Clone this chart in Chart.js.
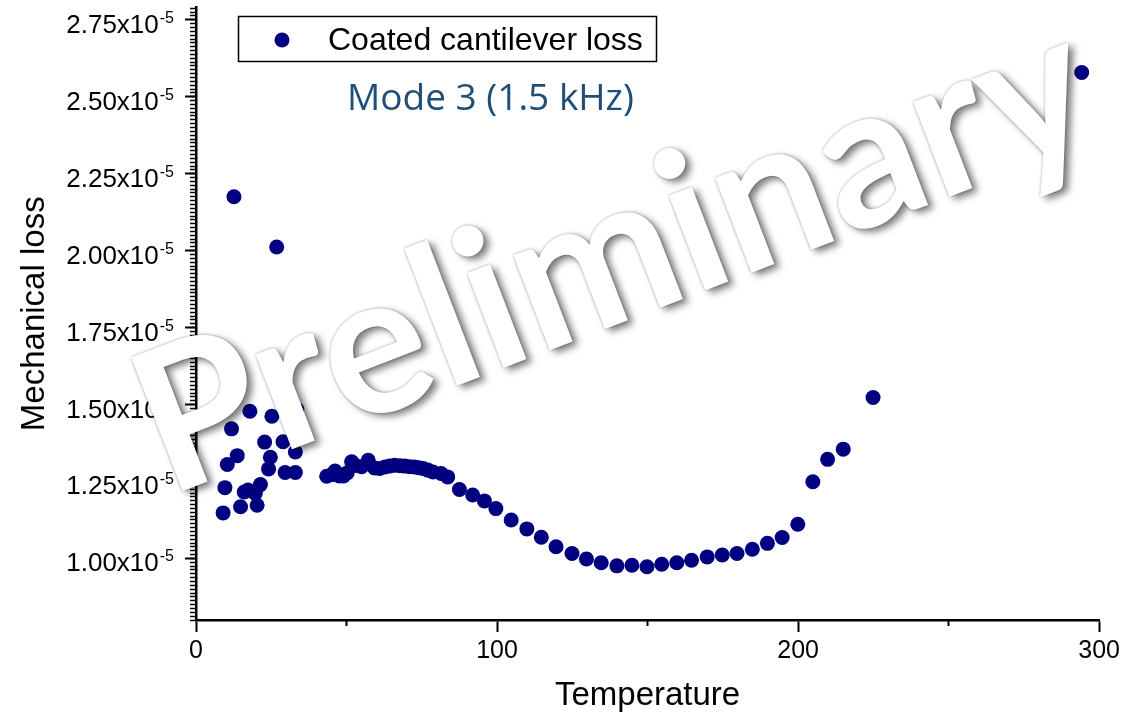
<!DOCTYPE html>
<html>
<head>
<meta charset="utf-8">
<title>Coated cantilever loss - Mode 3</title>
<script src="https://cdn.jsdelivr.net/npm/chart.js@4.4.1/dist/chart.umd.min.js"></script>
<style>
  html, body { margin: 0; padding: 0; background: #fff; overflow: hidden; }
  #wrap { position: relative; width: 1124px; height: 712px; }
  #lossChart { position: absolute; left: 0; top: 0; }
  #mode {
    position: absolute; left: 347px; top: 70px;
    font-family: "Open Sans", "Noto Sans", sans-serif; font-size: 37px;
    color: #1F4E79; white-space: nowrap;
  }
  #stamp {
    position: absolute; left: 609px; top: 246px;
    transform: translate(-50%, -50%) rotate(-21deg);
    font-family: Lato, "Open Sans", sans-serif; font-weight: 700; font-size: 198px;
    line-height: 1; color: #fff; white-space: nowrap; pointer-events: none;
    text-shadow: 4px 5px 7px rgba(0,0,0,0.5), 0 0 3px rgba(0,0,0,0.35);
  }
</style>
</head>
<body>
<div id="wrap">
  <canvas id="lossChart" width="1124" height="712"></canvas>
  <div id="mode">Mode 3 (1.5 kHz)</div>
  <div id="stamp">Preliminary</div>
</div>
<script>
// values
const temperature = [
  9.0, 9.6, 10.4, 11.8, 12.6, 13.7, 14.8, 16.0, 17.3, 17.9, 19.7, 20.3,
  21.4, 22.8, 24.1, 24.7, 25.2, 26.8, 28.0, 28.9, 29.6, 33.0, 33.0, 33.5,
  43.4, 45.0, 46.2, 47.6, 49.0, 50.2, 51.7, 53.0, 55.0, 57.2, 59.3, 61.0,
  62.7, 64.3, 66.0, 67.7, 69.3, 71.0, 72.6, 74.0, 75.4, 77.0, 78.7, 81.4,
  83.6, 87.5, 91.9, 95.8, 99.6, 104.7, 109.9, 114.7, 119.6, 124.9, 129.7, 134.6,
  139.8, 144.8, 149.8, 154.7, 159.7, 164.6, 169.8, 174.8, 179.7, 184.8, 189.8, 194.7,
  199.9, 204.9, 209.8, 215.0, 224.9, 294.2
];
const mechanicalLoss = [
  1.148e-5, 1.230e-5, 1.305e-5, 1.421e-5, 2.175e-5, 1.334e-5, 1.168e-5, 1.216e-5, 1.222e-5, 1.478e-5, 1.211e-5, 1.173e-5,
  1.240e-5, 1.378e-5, 1.291e-5, 1.329e-5, 1.462e-5, 2.012e-5, 1.601e-5, 1.379e-5, 1.279e-5, 1.279e-5, 1.346e-5, 1.484e-5,
  1.267e-5, 1.272e-5, 1.284e-5, 1.268e-5, 1.268e-5, 1.278e-5, 1.314e-5, 1.302e-5, 1.298e-5, 1.319e-5, 1.294e-5, 1.292e-5,
  1.297e-5, 1.300e-5, 1.303e-5, 1.301e-5, 1.300e-5, 1.298e-5, 1.297e-5, 1.295e-5, 1.292e-5, 1.287e-5, 1.281e-5, 1.276e-5,
  1.265e-5, 1.224e-5, 1.206e-5, 1.187e-5, 1.162e-5, 1.125e-5, 1.096e-5, 1.069e-5, 1.038e-5, 1.016e-5, 0.998e-5, 0.986e-5,
  0.976e-5, 0.978e-5, 0.973e-5, 0.981e-5, 0.986e-5, 0.994e-5, 1.005e-5, 1.011e-5, 1.016e-5, 1.030e-5, 1.049e-5, 1.068e-5,
  1.111e-5, 1.249e-5, 1.322e-5, 1.355e-5, 1.523e-5, 2.579e-5
];

const seriesLabel = 'Coated cantilever loss';
const xMajorTicks = [0, 100, 200, 300];
const xMinorTicks = [50, 150, 250];
const yTickValues = [1.00e-5, 1.25e-5, 1.50e-5, 1.75e-5, 2.00e-5, 2.25e-5, 2.50e-5, 2.75e-5];
const yTickLabels = ['1.00', '1.25', '1.50', '1.75', '2.00', '2.25', '2.50', '2.75'];
const yExponent = '-5';
const yMin = 0.80e-5, yMax = 2.79e-5;
const yMinorStep = 0.0125e-5;

const navy = '#000080';
const sansFont = '"Liberation Sans", Arial, Helvetica, sans-serif';
Chart.defaults.font.family = sansFont;
Chart.defaults.color = '#000';

const yMinorTicks = [];
for (let v = yMin; v <= yMax + 1e-12; v += yMinorStep) yMinorTicks.push(v);

// y tick labels like 1.25x10^-5 with a real superscript
const yLabelPlugin = {
  id: 'yLabels',
  afterDraw(chart) {
    const ctx = chart.ctx;
    const scale = chart.scales.y;
    const right = 174;
    ctx.save();
    ctx.fillStyle = '#000';
    ctx.textBaseline = 'alphabetic';
    yTickValues.forEach((v, i) => {
      const py = scale.getPixelForValue(v);
      ctx.font = '16px ' + sansFont;
      const supW = ctx.measureText(yExponent).width;
      ctx.textAlign = 'left';
      ctx.fillText(yExponent, right - supW, py + 3);
      ctx.font = '26px ' + sansFont;
      ctx.textAlign = 'right';
      ctx.fillText(yTickLabels[i] + 'x10', right - supW - 1, py + 13);
    });
    ctx.restore();
  }
};

// boxed legend inside the plot, like the original
const boxLegendPlugin = {
  id: 'boxLegend',
  afterDraw(chart) {
    const ctx = chart.ctx;
    const ds = chart.data.datasets[0];
    ctx.save();
    ctx.strokeStyle = '#000';
    ctx.lineWidth = 1.5;
    ctx.strokeRect(238.5, 16.5, 418, 45);
    ctx.fillStyle = ds.backgroundColor;
    ctx.beginPath();
    ctx.arc(282, 40, 7.5, 0, Math.PI * 2);
    ctx.fill();
    ctx.fillStyle = '#000';
    ctx.font = '32px ' + sansFont;
    ctx.textAlign = 'left';
    ctx.textBaseline = 'alphabetic';
    ctx.fillText(ds.label, 328, 50);
    ctx.restore();
  }
};

const ctx = document.getElementById('lossChart').getContext('2d');
const chart = new Chart(ctx, {
  type: 'scatter',
  data: {
    datasets: [{
      label: seriesLabel,
      data: temperature.map((t, i) => ({ x: t, y: mechanicalLoss[i] })),
      backgroundColor: navy,
      borderColor: navy,
      borderWidth: 0,
      pointRadius: 7.5,
      pointHoverRadius: 7.5
    }]
  },
  options: {
    responsive: false,
    animation: false,
    layout: { padding: { top: 7, right: 20, left: 0, bottom: 0 } },
    plugins: {
      legend: { display: false },
      tooltip: { enabled: false }
    },
    scales: {
      x: {
        type: 'linear', axis: 'x', position: 'bottom', weight: 1,
        min: 0, max: 300,
        afterBuildTicks: s => { s.ticks = xMajorTicks.map(v => ({ value: v })); },
        afterFit: s => { s.height = 92; },
        grid: { drawOnChartArea: false, drawTicks: true, tickLength: 12, tickWidth: 2, tickColor: '#000' },
        border: { display: true, color: '#000', width: 2.5 },
        ticks: {
          color: '#000', padding: 4, maxRotation: 0, autoSkip: false,
          font: { family: '"Liberation Sans Narrow", "Liberation Sans", Arial, sans-serif', size: 25 }
        },
        title: {
          display: true, text: 'Temperature', color: '#000', padding: 0,
          font: { size: 33, lineHeight: 1 }
        }
      },
      xMinor: {
        type: 'linear', axis: 'x', position: 'bottom', weight: 0,
        min: 0, max: 300,
        afterBuildTicks: s => { s.ticks = xMinorTicks.map(v => ({ value: v })); },
        afterFit: s => { s.height = 0; },
        grid: { drawOnChartArea: false, drawTicks: true, tickLength: 6, tickWidth: 2, tickColor: '#000' },
        border: { display: false },
        ticks: { display: false }
      },
      y: {
        type: 'linear', axis: 'y', position: 'left', weight: 1,
        min: yMin, max: yMax,
        afterBuildTicks: s => { s.ticks = yTickValues.map(v => ({ value: v })); },
        afterFit: s => { s.width = 196; },
        grid: { drawOnChartArea: false, drawTicks: true, tickLength: 11, tickWidth: 2, tickColor: '#000' },
        border: { display: true, color: '#000', width: 2.5 },
        ticks: { display: false },
        title: {
          display: true, text: 'Mechanical loss', color: '#000',
          padding: { top: 15, bottom: 0 },
          font: { size: 33 }
        }
      },
      yMinor: {
        type: 'linear', axis: 'y', position: 'left', weight: 0,
        min: yMin, max: yMax,
        afterBuildTicks: s => { s.ticks = yMinorTicks.map(v => ({ value: v })); },
        afterFit: s => { s.width = 0; },
        grid: { drawOnChartArea: false, drawTicks: true, tickLength: 6, tickWidth: 1.5, tickColor: '#000' },
        border: { display: false },
        ticks: { display: false }
      }
    }
  },
  plugins: [yLabelPlugin, boxLegendPlugin]
});
</script>
</body>
</html>
